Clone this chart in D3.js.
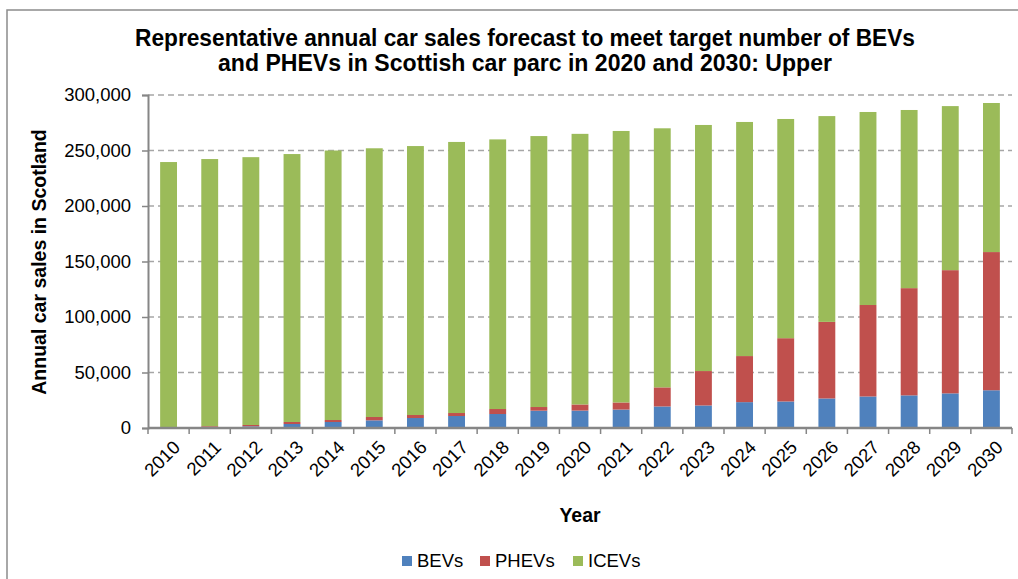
<!DOCTYPE html>
<html>
<head>
<meta charset="utf-8">
<script src="https://cdn.jsdelivr.net/npm/d3@7/dist/d3.min.js"></script>
<style>
  body { margin: 0; background: #fff; }
  svg { font-family: "Liberation Sans", Arial, sans-serif; }
</style>
</head>
<body>
<div id="chart"></div>
<script>

// chart data (cars per year)
var years = ["2010","2011","2012","2013","2014","2015","2016","2017","2018","2019","2020",
             "2021","2022","2023","2024","2025","2026","2027","2028","2029","2030"];
var bevs  = [200, 400, 1500, 3600, 5400, 6900, 9000, 10800, 12600, 15600, 15700,
             16600, 19400, 20300, 23300, 23900, 26600, 28400, 29400, 31200, 34000];
var phevs = [300, 1200, 1200, 1800, 1800, 3000, 2700, 2700, 4500, 3300, 5500,
             6400, 17200, 31000, 41500, 57000, 69000, 82400, 96600, 111000, 124500];
var icevs = [239100, 240700, 241300, 241400, 242800, 242100, 242300, 244200, 242900, 244100, 243800,
             244600, 233400, 221700, 210900, 197500, 185400, 173900, 160500, 147800, 134300];
var yTicks = [0, 50000, 100000, 150000, 200000, 250000, 300000];
var seriesNames = ["BEVs", "PHEVs", "ICEVs"];
var colors = ["#4F81BD", "#C0504D", "#9BBB59"];

var W = 1018, H = 579;
var margin = {top: 95, right: 6, bottom: 151, left: 148},
    width = W - margin.left - margin.right,
    height = H - margin.top - margin.bottom;

var svg = d3.select("#chart").append("svg")
    .attr("width", W).attr("height", H);

// outer chart border
svg.append("rect")
    .attr("x", 7).attr("y", 10)
    .attr("width", W + 20).attr("height", H + 20)
    .attr("fill", "none").attr("stroke", "#8c8c8c").attr("stroke-width", 1.5);

// title
var title = svg.append("text")
    .attr("text-anchor", "middle")
    .attr("font-weight", "bold")
    .attr("font-size", 23)
    .attr("fill", "#000");
title.append("tspan").attr("x", 525).attr("y", 46)
    .attr("textLength", 780).attr("lengthAdjust", "spacingAndGlyphs")
    .text("Representative annual car sales forecast to meet target number of BEVs");
title.append("tspan").attr("x", 525).attr("y", 71)
    .attr("textLength", 614).attr("lengthAdjust", "spacingAndGlyphs")
    .text("and PHEVs in Scottish car parc in 2020 and 2030: Upper");

var g = svg.append("g")
    .attr("transform", "translate(" + margin.left + "," + margin.top + ")");

// scales
var xScale = d3.scaleBand().domain(years).range([0, width]).paddingInner(0.59).paddingOuter(0.295);
var yScale = d3.scaleLinear().domain([0, 300000]).range([height, 0]);

// gridlines
g.selectAll(".grid").data(yTicks.slice(1)).enter().append("line")
    .attr("x1", 0).attr("x2", width)
    .attr("y1", function(d) { return yScale(d); })
    .attr("y2", function(d) { return yScale(d); })
    .attr("stroke", "#a6a6a6").attr("stroke-width", 1.5)
    .attr("stroke-dasharray", "6,4");

// stacked bars
var table = years.map(function(y, i) {
    return {year: y, BEVs: bevs[i], PHEVs: phevs[i], ICEVs: icevs[i]};
});
var stacked = d3.stack().keys(seriesNames)(table);

g.selectAll(".layer").data(stacked).enter().append("g")
    .attr("fill", function(d, i) { return colors[i]; })
  .selectAll("rect").data(function(d) { return d; }).enter().append("rect")
    .attr("x", function(d) { return xScale(d.data.year); })
    .attr("width", xScale.bandwidth())
    .attr("y", function(d) { return yScale(d[1]); })
    .attr("height", function(d) { return yScale(d[0]) - yScale(d[1]); });

// y axis
var yAxis = g.append("g")
    .call(d3.axisLeft(yScale).tickValues(yTicks).tickSize(6).tickPadding(11)
        .tickFormat(d3.format(",")));
yAxis.select(".domain").attr("stroke", "#868686").attr("stroke-width", 2);
yAxis.selectAll(".tick line").attr("stroke", "#868686").attr("stroke-width", 1.5);
yAxis.selectAll(".tick text")
    .attr("font-size", 18.5).attr("fill", "#000")
    .attr("font-family", "Liberation Sans, Arial, sans-serif");

// x axis: ticks sit between categories
var band = width / years.length;
var xAxis = g.append("g").attr("transform", "translate(0," + height + ")");
xAxis.append("line").attr("x1", 0).attr("x2", width)
    .attr("stroke", "#868686").attr("stroke-width", 2.5);
xAxis.selectAll(".xt").data(d3.range(years.length + 1)).enter().append("line")
    .attr("x1", function(i) { return i * band; })
    .attr("x2", function(i) { return i * band; })
    .attr("y1", 0).attr("y2", 6)
    .attr("stroke", "#868686").attr("stroke-width", 1.5);
xAxis.selectAll(".xl").data(years).enter().append("text")
    .attr("transform", function(d) {
        return "translate(" + (xScale(d) + xScale.bandwidth() / 2 + 8) + ",16) rotate(-45)";
    })
    .attr("text-anchor", "end")
    .attr("dy", "0.35em")
    .attr("font-size", 18.5)
    .text(function(d) { return d; });

// axis titles
svg.append("text")
    .attr("transform", "translate(46," + 262 + ") rotate(-90)")
    .attr("text-anchor", "middle")
    .attr("font-weight", "bold").attr("font-size", 19.5)
    .text("Annual car sales in Scotland");

svg.append("text")
    .attr("x", 580).attr("y", 522)
    .attr("text-anchor", "middle")
    .attr("font-weight", "bold").attr("font-size", 19.5)
    .text("Year");

// legend
var legendX = [402, 480, 573];
var legend = svg.selectAll(".legend").data(seriesNames).enter().append("g")
    .attr("transform", function(d, i) { return "translate(" + legendX[i] + ",561)"; });
legend.append("rect")
    .attr("x", 0).attr("y", -5).attr("width", 10).attr("height", 10)
    .attr("fill", function(d, i) { return colors[i]; });
legend.append("text")
    .attr("x", 15).attr("dy", "0.35em")
    .attr("font-size", 18.5)
    .text(function(d) { return d; });

</script>
</body>
</html>
